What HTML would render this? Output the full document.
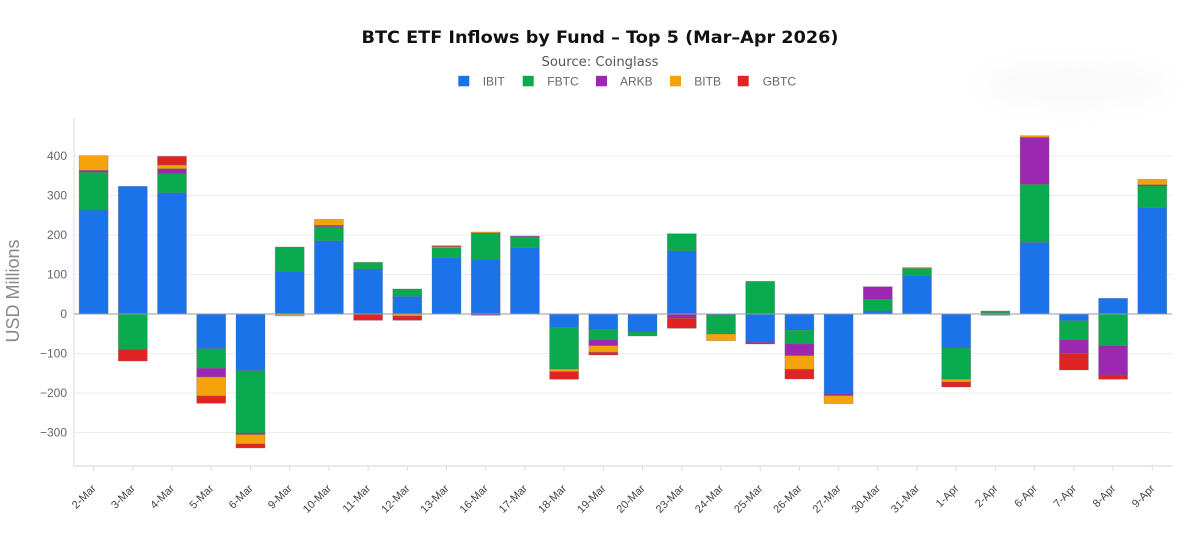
<!DOCTYPE html>
<html>
<head>
<meta charset="utf-8">
<style>
  html, body { margin:0; padding:0; background:#ffffff; }
  svg { display:block; }
</style>
</head>
<body>
<svg width="1200" height="554" viewBox="0 0 1200 554" xmlns="http://www.w3.org/2000/svg">
  <defs>
    <filter id="blur" x="-50%" y="-50%" width="200%" height="200%"><feGaussianBlur stdDeviation="12"/></filter>
  </defs>
  <rect width="1200" height="554" fill="#ffffff"/>
  <ellipse cx="1075" cy="85" rx="95" ry="24" fill="#f3f3f3" filter="url(#blur)" opacity="0.4"/>

  <!-- Title -->
  <text x="600" y="43" text-anchor="middle" font-family="'DejaVu Sans', 'Liberation Sans', sans-serif" font-weight="bold" font-size="17" fill="#111" textLength="477" lengthAdjust="spacingAndGlyphs">BTC ETF Inflows by Fund – Top 5 (Mar–Apr 2026)</text>
  <text x="600" y="66" text-anchor="middle" font-family="'DejaVu Sans', 'Liberation Sans', sans-serif" font-size="13" fill="#555" textLength="117" lengthAdjust="spacingAndGlyphs">Source: Coinglass</text>

  <!-- Legend -->
  <g font-family="'Liberation Sans', sans-serif" font-size="12" fill="#666">
    <rect x="458.3" y="75.8" width="11" height="10.5" fill="#1a73e8"/>
    <text x="482.7" y="85.5">IBIT</text>
    <rect x="522.7" y="75.8" width="11" height="10.5" fill="#0aaa4e"/>
    <text x="547.3" y="85.5">FBTC</text>
    <rect x="596" y="75.8" width="11" height="10.5" fill="#9c27b0"/>
    <text x="620" y="85.5">ARKB</text>
    <rect x="670" y="75.8" width="11" height="10.5" fill="#f5a30a"/>
    <text x="694.3" y="85.5">BITB</text>
    <rect x="737.7" y="75.8" width="11" height="10.5" fill="#e02424"/>
    <text x="762.7" y="85.5">GBTC</text>
  </g>

  <!-- Gridlines -->
  <g stroke="#ececec" stroke-width="1">
    <line x1="74" y1="156" x2="1172" y2="156"/>
    <line x1="74" y1="195.5" x2="1172" y2="195.5"/>
    <line x1="74" y1="235" x2="1172" y2="235"/>
    <line x1="74" y1="274.5" x2="1172" y2="274.5"/>
    <line x1="74" y1="353.5" x2="1172" y2="353.5"/>
    <line x1="74" y1="393" x2="1172" y2="393"/>
    <line x1="74" y1="432.5" x2="1172" y2="432.5"/>
  </g>

  <!-- Y axis labels -->
  <g font-family="'Liberation Sans', sans-serif" font-size="12" fill="#666" text-anchor="end">
    <text x="67" y="160">400</text>
    <text x="67" y="199.5">300</text>
    <text x="67" y="239">200</text>
    <text x="67" y="278.5">100</text>
    <text x="67" y="318">0</text>
    <text x="67" y="357.5">−100</text>
    <text x="67" y="397">−200</text>
    <text x="67" y="436.5">−300</text>
  </g>
  <text transform="translate(19,291) rotate(-90)" text-anchor="middle" font-family="'Liberation Sans', sans-serif" font-size="18" fill="#888">USD Millions</text>

  <!-- Bars -->
  <g stroke="#6e6e6e" stroke-opacity="0.45" stroke-width="0.7">
    <rect x="79.1" y="210" width="29" height="104" fill="#1a73e8"/>
    <rect x="79.1" y="172.3" width="29" height="37.7" fill="#0aaa4e"/>
    <rect x="79.1" y="170.3" width="29" height="2" fill="#9c27b0"/>
    <rect x="79.1" y="155.7" width="29" height="14.6" fill="#f5a30a"/>
    <rect x="118.3" y="186.3" width="29" height="127.7" fill="#1a73e8"/>
    <rect x="118.3" y="314" width="29" height="35.3" fill="#0aaa4e"/>
    <rect x="118.3" y="349.3" width="29" height="11.7" fill="#e02424"/>
    <rect x="157.5" y="192.7" width="29" height="121.3" fill="#1a73e8"/>
    <rect x="157.5" y="173.7" width="29" height="19" fill="#0aaa4e"/>
    <rect x="157.5" y="168.7" width="29" height="5" fill="#9c27b0"/>
    <rect x="157.5" y="165" width="29" height="3.7" fill="#f5a30a"/>
    <rect x="157.5" y="156.3" width="29" height="8.7" fill="#e02424"/>
    <rect x="196.7" y="314" width="29" height="34.7" fill="#1a73e8"/>
    <rect x="196.7" y="348.7" width="29" height="19.6" fill="#0aaa4e"/>
    <rect x="196.7" y="368.3" width="29" height="8.7" fill="#9c27b0"/>
    <rect x="196.7" y="377" width="29" height="19" fill="#f5a30a"/>
    <rect x="196.7" y="396" width="29" height="7.3" fill="#e02424"/>
    <rect x="236" y="314" width="29" height="56.7" fill="#1a73e8"/>
    <rect x="236" y="370.7" width="29" height="62.3" fill="#0aaa4e"/>
    <rect x="236" y="433" width="29" height="1.5" fill="#9c27b0"/>
    <rect x="236" y="434.5" width="29" height="9.5" fill="#f5a30a"/>
    <rect x="236" y="444" width="29" height="4" fill="#e02424"/>
    <rect x="275.2" y="271.3" width="29" height="42.7" fill="#1a73e8"/>
    <rect x="275.2" y="247" width="29" height="24.3" fill="#0aaa4e"/>
    <rect x="275.2" y="314" width="29" height="2" fill="#f5a30a"/>
    <rect x="314.4" y="240.7" width="29" height="73.3" fill="#1a73e8"/>
    <rect x="314.4" y="226.7" width="29" height="14" fill="#0aaa4e"/>
    <rect x="314.4" y="225.3" width="29" height="1.4" fill="#9c27b0"/>
    <rect x="314.4" y="219.3" width="29" height="6" fill="#f5a30a"/>
    <rect x="353.6" y="269" width="29" height="45" fill="#1a73e8"/>
    <rect x="353.6" y="262.3" width="29" height="6.7" fill="#0aaa4e"/>
    <rect x="353.6" y="314" width="29" height="6.3" fill="#e02424"/>
    <rect x="392.8" y="296.3" width="29" height="17.7" fill="#1a73e8"/>
    <rect x="392.8" y="289" width="29" height="7.3" fill="#0aaa4e"/>
    <rect x="392.8" y="314" width="29" height="2" fill="#f5a30a"/>
    <rect x="392.8" y="316" width="29" height="4.3" fill="#e02424"/>
    <rect x="432" y="257.7" width="29" height="56.3" fill="#1a73e8"/>
    <rect x="432" y="247.7" width="29" height="10" fill="#0aaa4e"/>
    <rect x="432" y="246.7" width="29" height="1" fill="#f5a30a"/>
    <rect x="432" y="245.7" width="29" height="1" fill="#e02424"/>
    <rect x="471.2" y="259.3" width="29" height="54.7" fill="#1a73e8"/>
    <rect x="471.2" y="233" width="29" height="26.3" fill="#0aaa4e"/>
    <rect x="471.2" y="232" width="29" height="1" fill="#f5a30a"/>
    <rect x="471.2" y="314" width="29" height="1.3" fill="#9c27b0"/>
    <rect x="510.4" y="247.7" width="29" height="66.3" fill="#1a73e8"/>
    <rect x="510.4" y="236.7" width="29" height="11" fill="#0aaa4e"/>
    <rect x="510.4" y="236" width="29" height="0.7" fill="#9c27b0"/>
    <rect x="549.6" y="314" width="29" height="13.3" fill="#1a73e8"/>
    <rect x="549.6" y="327.3" width="29" height="41.7" fill="#0aaa4e"/>
    <rect x="549.6" y="369" width="29" height="2.7" fill="#f5a30a"/>
    <rect x="549.6" y="371.7" width="29" height="7.6" fill="#e02424"/>
    <rect x="588.8" y="314" width="29" height="15.3" fill="#1a73e8"/>
    <rect x="588.8" y="329.3" width="29" height="10.7" fill="#0aaa4e"/>
    <rect x="588.8" y="340" width="29" height="5.7" fill="#9c27b0"/>
    <rect x="588.8" y="345.7" width="29" height="6.6" fill="#f5a30a"/>
    <rect x="588.8" y="352.3" width="29" height="2.7" fill="#e02424"/>
    <rect x="628" y="314" width="29" height="18" fill="#1a73e8"/>
    <rect x="628" y="332" width="29" height="4" fill="#0aaa4e"/>
    <rect x="667.3" y="250.7" width="29" height="63.3" fill="#1a73e8"/>
    <rect x="667.3" y="233.7" width="29" height="17" fill="#0aaa4e"/>
    <rect x="667.3" y="314" width="29" height="4.3" fill="#9c27b0"/>
    <rect x="667.3" y="318.3" width="29" height="10" fill="#e02424"/>
    <rect x="706.5" y="314" width="29" height="1" fill="#1a73e8"/>
    <rect x="706.5" y="315" width="29" height="19" fill="#0aaa4e"/>
    <rect x="706.5" y="334" width="29" height="6.7" fill="#f5a30a"/>
    <rect x="745.7" y="281.3" width="29" height="32.7" fill="#0aaa4e"/>
    <rect x="745.7" y="314" width="29" height="28.3" fill="#1a73e8"/>
    <rect x="745.7" y="342.3" width="29" height="1.7" fill="#9c27b0"/>
    <rect x="784.9" y="314" width="29" height="16.3" fill="#1a73e8"/>
    <rect x="784.9" y="330.3" width="29" height="13.7" fill="#0aaa4e"/>
    <rect x="784.9" y="344" width="29" height="11.7" fill="#9c27b0"/>
    <rect x="784.9" y="355.7" width="29" height="13.6" fill="#f5a30a"/>
    <rect x="784.9" y="369.3" width="29" height="9.7" fill="#e02424"/>
    <rect x="824.1" y="314" width="29" height="80" fill="#1a73e8"/>
    <rect x="824.1" y="394" width="29" height="1.7" fill="#9c27b0"/>
    <rect x="824.1" y="395.7" width="29" height="8" fill="#f5a30a"/>
    <rect x="863.3" y="311" width="29" height="3" fill="#1a73e8"/>
    <rect x="863.3" y="299.3" width="29" height="11.7" fill="#0aaa4e"/>
    <rect x="863.3" y="286.7" width="29" height="12.6" fill="#9c27b0"/>
    <rect x="902.5" y="275.7" width="29" height="38.3" fill="#1a73e8"/>
    <rect x="902.5" y="268.3" width="29" height="7.4" fill="#0aaa4e"/>
    <rect x="902.5" y="267.5" width="29" height="0.8" fill="#f5a30a"/>
    <rect x="941.7" y="314" width="29" height="34" fill="#1a73e8"/>
    <rect x="941.7" y="348" width="29" height="31.3" fill="#0aaa4e"/>
    <rect x="941.7" y="379.3" width="29" height="2.7" fill="#f5a30a"/>
    <rect x="941.7" y="382" width="29" height="5" fill="#e02424"/>
    <rect x="980.9" y="311" width="29" height="4.3" fill="#2e9a60"/>
    <rect x="1020.1" y="242.3" width="29" height="71.7" fill="#1a73e8"/>
    <rect x="1020.1" y="184.3" width="29" height="58" fill="#0aaa4e"/>
    <rect x="1020.1" y="137.3" width="29" height="47" fill="#9c27b0"/>
    <rect x="1020.1" y="135.7" width="29" height="1.6" fill="#f5a30a"/>
    <rect x="1059.4" y="314" width="29" height="6.7" fill="#1a73e8"/>
    <rect x="1059.4" y="320.7" width="29" height="19" fill="#0aaa4e"/>
    <rect x="1059.4" y="339.7" width="29" height="13.6" fill="#9c27b0"/>
    <rect x="1059.4" y="353.3" width="29" height="16.7" fill="#e02424"/>
    <rect x="1098.6" y="298.3" width="29" height="15.7" fill="#1a73e8"/>
    <rect x="1098.6" y="314" width="29" height="31.7" fill="#0aaa4e"/>
    <rect x="1098.6" y="345.7" width="29" height="29.3" fill="#9c27b0"/>
    <rect x="1098.6" y="375" width="29" height="4.3" fill="#e02424"/>
    <rect x="1137.8" y="207.7" width="29" height="106.3" fill="#1a73e8"/>
    <rect x="1137.8" y="186" width="29" height="21.7" fill="#0aaa4e"/>
    <rect x="1137.8" y="184.7" width="29" height="1.3" fill="#9c27b0"/>
    <rect x="1137.8" y="179.3" width="29" height="5.4" fill="#f5a30a"/>
  </g>

  <!-- Zero line and axes -->
  <line x1="74" y1="314" x2="1172" y2="314" stroke="#9a9a9a" stroke-width="1"/>
  <line x1="74" y1="118" x2="74" y2="466" stroke="#dddddd" stroke-width="1"/>
  <line x1="74" y1="466" x2="1173" y2="466" stroke="#dddddd" stroke-width="1.2"/>

  <!-- X ticks -->
  <g stroke="#dddddd" stroke-width="1">
    <line x1="93.6" y1="466" x2="93.6" y2="471"/>
    <line x1="132.8" y1="466" x2="132.8" y2="471"/>
    <line x1="172" y1="466" x2="172" y2="471"/>
    <line x1="211.2" y1="466" x2="211.2" y2="471"/>
    <line x1="250.5" y1="466" x2="250.5" y2="471"/>
    <line x1="289.7" y1="466" x2="289.7" y2="471"/>
    <line x1="328.9" y1="466" x2="328.9" y2="471"/>
    <line x1="368.1" y1="466" x2="368.1" y2="471"/>
    <line x1="407.3" y1="466" x2="407.3" y2="471"/>
    <line x1="446.5" y1="466" x2="446.5" y2="471"/>
    <line x1="485.7" y1="466" x2="485.7" y2="471"/>
    <line x1="524.9" y1="466" x2="524.9" y2="471"/>
    <line x1="564.1" y1="466" x2="564.1" y2="471"/>
    <line x1="603.3" y1="466" x2="603.3" y2="471"/>
    <line x1="642.5" y1="466" x2="642.5" y2="471"/>
    <line x1="681.8" y1="466" x2="681.8" y2="471"/>
    <line x1="721" y1="466" x2="721" y2="471"/>
    <line x1="760.2" y1="466" x2="760.2" y2="471"/>
    <line x1="799.4" y1="466" x2="799.4" y2="471"/>
    <line x1="838.6" y1="466" x2="838.6" y2="471"/>
    <line x1="877.8" y1="466" x2="877.8" y2="471"/>
    <line x1="917" y1="466" x2="917" y2="471"/>
    <line x1="956.2" y1="466" x2="956.2" y2="471"/>
    <line x1="995.4" y1="466" x2="995.4" y2="471"/>
    <line x1="1034.6" y1="466" x2="1034.6" y2="471"/>
    <line x1="1073.9" y1="466" x2="1073.9" y2="471"/>
    <line x1="1113.1" y1="466" x2="1113.1" y2="471"/>
    <line x1="1152.3" y1="466" x2="1152.3" y2="471"/>
  </g>

  <!-- X labels -->
  <g font-family="'Liberation Sans', sans-serif" font-size="11" fill="#444" text-anchor="end">
    <text transform="translate(96.6,489) rotate(-45)">2-Mar</text>
    <text transform="translate(135.8,489) rotate(-45)">3-Mar</text>
    <text transform="translate(175,489) rotate(-45)">4-Mar</text>
    <text transform="translate(214.2,489) rotate(-45)">5-Mar</text>
    <text transform="translate(253.5,489) rotate(-45)">6-Mar</text>
    <text transform="translate(292.7,489) rotate(-45)">9-Mar</text>
    <text transform="translate(331.9,489) rotate(-45)">10-Mar</text>
    <text transform="translate(371.1,489) rotate(-45)">11-Mar</text>
    <text transform="translate(410.3,489) rotate(-45)">12-Mar</text>
    <text transform="translate(449.5,489) rotate(-45)">13-Mar</text>
    <text transform="translate(488.7,489) rotate(-45)">16-Mar</text>
    <text transform="translate(527.9,489) rotate(-45)">17-Mar</text>
    <text transform="translate(567.1,489) rotate(-45)">18-Mar</text>
    <text transform="translate(606.3,489) rotate(-45)">19-Mar</text>
    <text transform="translate(645.5,489) rotate(-45)">20-Mar</text>
    <text transform="translate(684.8,489) rotate(-45)">23-Mar</text>
    <text transform="translate(724,489) rotate(-45)">24-Mar</text>
    <text transform="translate(763.2,489) rotate(-45)">25-Mar</text>
    <text transform="translate(802.4,489) rotate(-45)">26-Mar</text>
    <text transform="translate(841.6,489) rotate(-45)">27-Mar</text>
    <text transform="translate(880.8,489) rotate(-45)">30-Mar</text>
    <text transform="translate(920,489) rotate(-45)">31-Mar</text>
    <text transform="translate(959.2,489) rotate(-45)">1-Apr</text>
    <text transform="translate(998.4,489) rotate(-45)">2-Apr</text>
    <text transform="translate(1037.6,489) rotate(-45)">6-Apr</text>
    <text transform="translate(1076.9,489) rotate(-45)">7-Apr</text>
    <text transform="translate(1116.1,489) rotate(-45)">8-Apr</text>
    <text transform="translate(1155.3,489) rotate(-45)">9-Apr</text>
  </g>
</svg>
</body>
</html>
